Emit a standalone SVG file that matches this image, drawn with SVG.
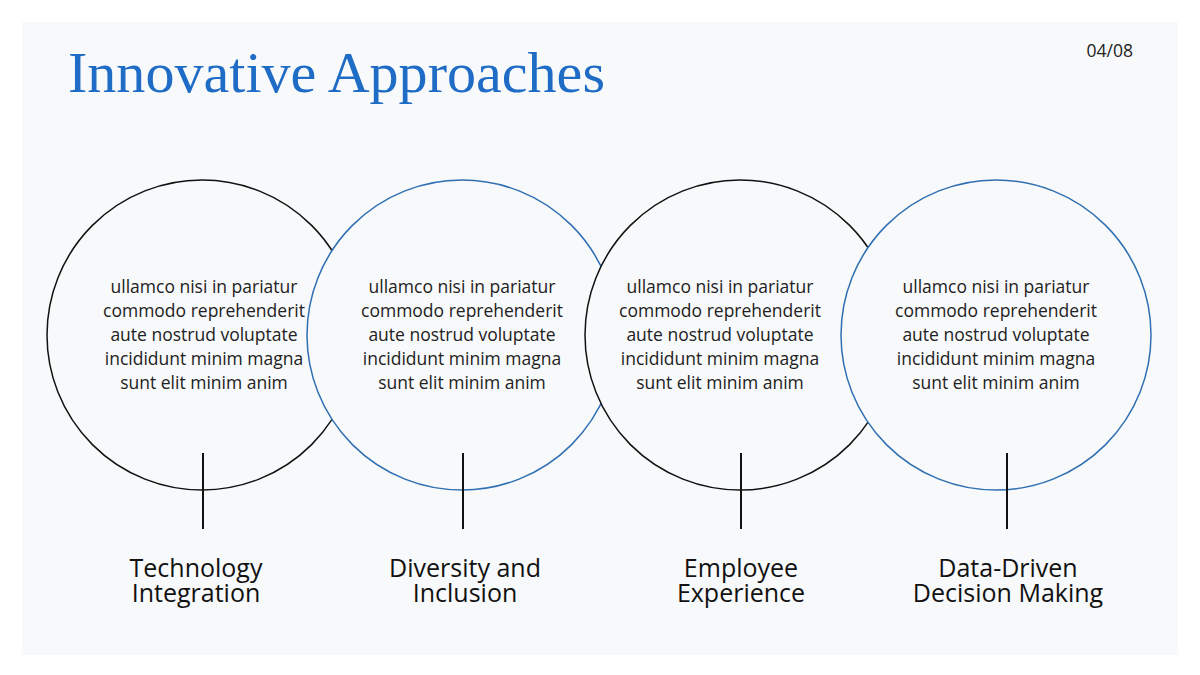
<svg xmlns="http://www.w3.org/2000/svg" width="1200" height="675" viewBox="0 0 1200 675">
<style>
.c{fill:#f8f9fa;stroke-width:1.5}
.k{stroke:#111}
.b{stroke:#2f6fb3}
.body{font-family:"Open Sans","Liberation Sans",sans-serif;font-size:17.5px;fill:#222;text-anchor:middle}
.lbl{font-family:"Open Sans","Liberation Sans",sans-serif;font-size:25px;fill:#111;text-anchor:middle}
.tick{stroke:#111;stroke-width:2}
</style>
<rect width="1200" height="675" fill="#ffffff"/>
<rect x="22" y="22" width="1156" height="633" fill="#f8f9fa"/>
<text x="68" y="92" font-family="'Liberation Serif',serif" font-size="58" fill="#1f6cc6" textLength="537" lengthAdjust="spacingAndGlyphs">Innovative Approaches</text>
<text x="1133" y="57" font-family="'Open Sans','Liberation Sans',sans-serif" font-size="17.5" fill="#222" text-anchor="end">04/08</text>
<g id="node1">
<circle class="c k" cx="202" cy="335" r="155"/>
<text class="body"><tspan x="204" y="293">ullamco nisi in pariatur</tspan><tspan x="204" y="317">commodo reprehenderit</tspan><tspan x="204" y="341">aute nostrud voluptate</tspan><tspan x="204" y="365">incididunt minim magna</tspan><tspan x="204" y="389">sunt elit minim anim</tspan></text>
</g>
<g id="node2">
<circle class="c b" cx="462" cy="335" r="155"/>
<text class="body"><tspan x="462" y="293">ullamco nisi in pariatur</tspan><tspan x="462" y="317">commodo reprehenderit</tspan><tspan x="462" y="341">aute nostrud voluptate</tspan><tspan x="462" y="365">incididunt minim magna</tspan><tspan x="462" y="389">sunt elit minim anim</tspan></text>
</g>
<g id="node3">
<circle class="c k" cx="740" cy="335" r="155"/>
<text class="body"><tspan x="720" y="293">ullamco nisi in pariatur</tspan><tspan x="720" y="317">commodo reprehenderit</tspan><tspan x="720" y="341">aute nostrud voluptate</tspan><tspan x="720" y="365">incididunt minim magna</tspan><tspan x="720" y="389">sunt elit minim anim</tspan></text>
</g>
<g id="node4">
<circle class="c b" cx="996" cy="335" r="155"/>
<text class="body"><tspan x="996" y="293">ullamco nisi in pariatur</tspan><tspan x="996" y="317">commodo reprehenderit</tspan><tspan x="996" y="341">aute nostrud voluptate</tspan><tspan x="996" y="365">incididunt minim magna</tspan><tspan x="996" y="389">sunt elit minim anim</tspan></text>
</g>
<g id="connectors">
<line class="tick" x1="203" y1="453" x2="203" y2="529"/>
<line class="tick" x1="463" y1="453" x2="463" y2="529"/>
<line class="tick" x1="741" y1="453" x2="741" y2="529"/>
<line class="tick" x1="1007" y1="453" x2="1007" y2="529"/>
</g>
<g id="label1"><text class="lbl"><tspan x="196" y="577">Technology</tspan><tspan x="196" y="602">Integration</tspan></text></g>
<g id="label2"><text class="lbl"><tspan x="465" y="577">Diversity and</tspan><tspan x="465" y="602">Inclusion</tspan></text></g>
<g id="label3"><text class="lbl"><tspan x="741" y="577">Employee</tspan><tspan x="741" y="602">Experience</tspan></text></g>
<g id="label4"><text class="lbl"><tspan x="1008" y="577">Data-Driven</tspan><tspan x="1008" y="602">Decision Making</tspan></text></g>
</svg>
